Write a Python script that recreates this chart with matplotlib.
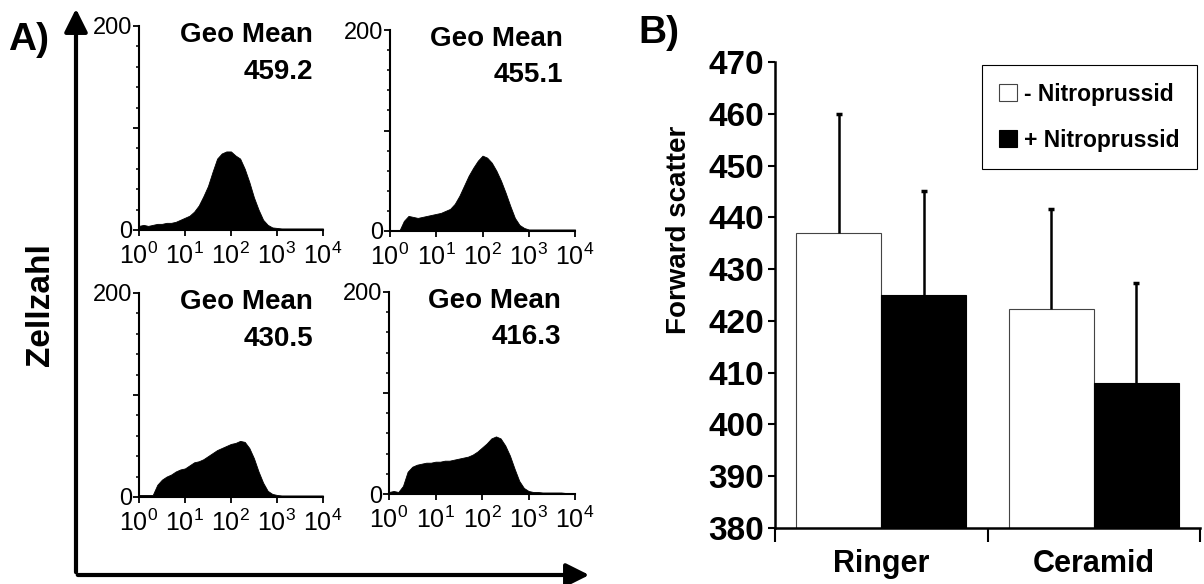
import numpy as np
import matplotlib
matplotlib.use("Agg")
import matplotlib.pyplot as plt
from matplotlib.ticker import MultipleLocator, FixedLocator, NullFormatter

plt.rcParams['font.family'] = ['Liberation Sans', 'DejaVu Sans']
plt.rcParams['mathtext.default'] = 'regular'

# --- Panel A: FACS histograms (envelope read every 0.1 decade, 10^0 .. 10^4)
log_x = np.round(np.arange(0, 4.01, 0.1), 1)
hist_ringer_minus = [4, 5, 4, 5, 6, 6, 7, 7, 8, 10, 12, 14, 18, 24, 33, 43, 57, 70, 75, 77, 77,
                     73, 70, 60, 47, 32, 20, 10, 5, 2.5, 2, 1.5, 1.5, 1.5, 1.5, 1.5, 1.5, 1.5, 1.5, 1.5, 1.5]
hist_ringer_plus = [0, 0, 0, 10, 15, 14, 13, 14, 15, 16, 17, 18, 20, 22, 27, 35, 45, 55, 63, 70, 75,
                    73, 68, 60, 50, 38, 25, 13, 6, 3, 1.5, 1.5, 1.5, 1.5, 1.5, 1.5, 1.5, 1.5, 1.5, 1.5, 1.5]
hist_ceramid_minus = [2, 2, 2, 2, 12, 17, 20, 22, 25, 27, 28, 31, 34, 35, 37, 40, 43, 46, 48, 50, 52,
                      53, 55, 54, 48, 38, 25, 14, 6, 3, 2, 1.5, 1.5, 1.5, 1.5, 1.5, 1.5, 1.5, 1.5, 1.5, 1.5]
hist_ceramid_plus = [2, 3, 2, 8, 22, 27, 29, 30, 31, 31, 32, 32, 33, 33, 34, 35, 36, 37, 39, 42, 46,
                     50, 55, 57, 55, 48, 38, 25, 13, 6, 3, 2, 2, 1.5, 1.5, 1.5, 1.5, 1.5, 1, 1, 1]
geo_means = ["459.2", "455.1", "430.5", "416.3"]

# --- Panel B: forward scatter bars
groups = ["Ringer", "Ceramid"]
fsc_minus = [437, 422.3]
fsc_plus = [425, 408]
err_minus = [23, 19.4]
err_plus = [20, 19.3]

fig = plt.figure(figsize=(12.04, 5.84), dpi=100)

hist_axes = [
    (0.1154, 0.6062, 0.1528, 0.3493, hist_ringer_minus, 0.946),
    (0.3239, 0.6045, 0.1537, 0.3440, hist_ringer_plus, 0.935),
    (0.1154, 0.1490, 0.1528, 0.3493, hist_ceramid_minus, 0.946),
    (0.3231, 0.1541, 0.1545, 0.3460, hist_ceramid_plus, 0.925),
]
for (l, b, w, h, vals, tx), gm in zip(hist_axes, geo_means):
    ax = fig.add_axes([l, b, w, h])
    ax.fill_between(10 ** log_x, vals, 0, color='black', linewidth=0.6, edgecolor='black')
    ax.set_xscale('log')
    ax.set_xlim(1, 1e4)
    ax.set_ylim(0, 200)
    ax.xaxis.set_major_locator(FixedLocator([1, 10, 100, 1000, 10000]))
    ax.set_xticklabels([r'$10^{%d}$' % i for i in range(5)])
    ax.xaxis.set_minor_formatter(NullFormatter())
    ax.xaxis.set_minor_locator(FixedLocator([]))
    ax.yaxis.set_major_locator(FixedLocator([0, 100, 200]))
    ax.set_yticklabels(['0', '', '200'])
    ax.yaxis.set_minor_locator(MultipleLocator(20))
    for s in ['top', 'right']:
        ax.spines[s].set_visible(False)
    for s in ['left', 'bottom']:
        ax.spines[s].set_linewidth(1.5)
    ax.tick_params(axis='x', which='major', labelsize=18, width=1.3, length=4, pad=5)
    ax.tick_params(axis='y', which='major', labelsize=17, width=1.3, length=4, pad=1)
    ax.tick_params(axis='y', which='minor', width=1.1, length=2.5)
    ax.text(tx, 1.02, "Geo Mean", transform=ax.transAxes, ha='right', va='top',
            fontsize=20, fontweight='bold')
    ax.text(tx, 0.84, gm, transform=ax.transAxes, ha='right', va='top',
            fontsize=20, fontweight='bold')

# big arrows of panel A
fig.add_artist(matplotlib.patches.FancyArrowPatch((76 / 1204, 9 / 584), (76 / 1204, 1 - 6 / 584),
               transform=fig.transFigure, arrowstyle='-|>,head_length=0.7,head_width=0.35',
               mutation_scale=20, linewidth=3, color='black'))
fig.add_artist(matplotlib.patches.FancyArrowPatch((75 / 1204, 9 / 584), (592 / 1204, 9 / 584),
               transform=fig.transFigure, arrowstyle='-|>,head_length=0.7,head_width=0.35',
               mutation_scale=20, linewidth=3, color='black'))
fig.text(8 / 1204, 1 - 40 / 584, "A)", fontsize=28, fontweight='bold', va='center', ha='left')
fig.text(40 / 1204, 1 - 305 / 584, "Zellzahl", fontsize=24, fontweight='bold', rotation=90,
         va='center', ha='center')

# --- Panel B
fig.text(638 / 1204, 1 - 33 / 584, "B)", fontsize=28, fontweight='bold', va='center', ha='left')
axb = fig.add_axes([0.6437, 0.0959, 0.353, 0.798])
centers = np.arange(len(groups)) + 0.5
bw = 0.4
axb.bar(centers - bw / 2, fsc_minus, bw, color='white', edgecolor='#444444', linewidth=0.8,
        label='- Nitroprussid')
axb.bar(centers + bw / 2, fsc_plus, bw, color='black', edgecolor='black', linewidth=0.8,
        label='+ Nitroprussid')
# upper error bars only
for xs, ys, es in [(centers - bw / 2, fsc_minus, err_minus), (centers + bw / 2, fsc_plus, err_plus)]:
    tops = np.array(ys) + np.array(es)
    axb.vlines(xs, ys, tops, color='black', linewidth=1.8)
    axb.plot(xs, tops, linestyle='none', marker='_', markersize=5, markeredgewidth=2.5, color='black')
axb.set_ylim(380, 470)
axb.set_xlim(0, 2)
axb.yaxis.set_major_locator(MultipleLocator(10))
axb.set_xticks([0, 1, 2])
axb.set_xticklabels(['', '', ''])
axb.set_xticks(centers, minor=True)
axb.set_xticklabels(groups, minor=True)
axb.tick_params(axis='x', which='major', length=10, width=1.5, direction='out')
axb.tick_params(axis='x', which='minor', length=0, pad=15, labelsize=22)
axb.tick_params(axis='y', length=5, width=1.5, labelsize=24, pad=3)
for lbl in axb.get_yticklabels() + axb.get_xticklabels(minor=True):
    lbl.set_fontweight('bold')
for s in ['top', 'right']:
    axb.spines[s].set_visible(False)
for s in ['left', 'bottom']:
    axb.spines[s].set_linewidth(1.8)
axb.set_ylabel("Forward scatter", fontsize=20, fontweight='bold')
axb.yaxis.set_label_coords(-0.195, 0.64)
leg = axb.legend(loc='upper right', bbox_to_anchor=(1.0, 1.0), borderaxespad=0.15,
                 fancybox=False, framealpha=1,
                 edgecolor='black', handlelength=0.8, handleheight=0.8, handletextpad=0.3,
                 labelspacing=1.0, borderpad=0.75, prop={'size': 16.5, 'weight': 'bold'})
leg.get_frame().set_linewidth(0.8)

fig.savefig("out.png", dpi=100)
